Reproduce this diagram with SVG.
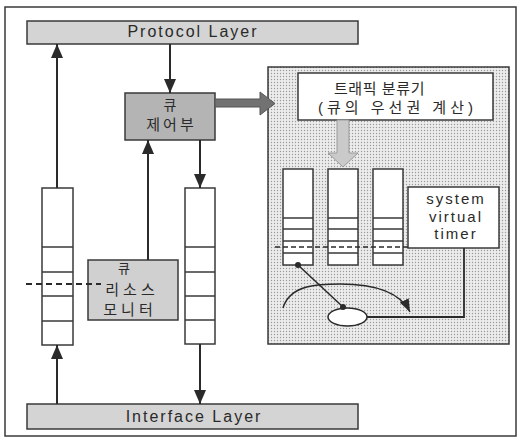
<svg xmlns="http://www.w3.org/2000/svg" width="520" height="439" viewBox="0 0 520 439">
<style>
text{font-family:"Liberation Sans","Noto Sans CJK KR",sans-serif;fill:#2a2a2a;text-anchor:middle}
.box{stroke:#3a3a3a;stroke-width:1.5}
.conn{stroke:#2a2a2a;stroke-width:2;fill:none}
.q{fill:#fff;stroke:#3a3a3a;stroke-width:1.5}
.div{stroke:#3a3a3a;stroke-width:1.3}
</style>
<defs>
<marker id="ah" markerUnits="userSpaceOnUse" markerWidth="14" markerHeight="12" refX="14" refY="6" orient="auto" viewBox="0 0 14 12">
<path d="M0,0 L14,6 L0,12 z" fill="#2a2a2a"/>
</marker>
<marker id="ah2" markerUnits="userSpaceOnUse" markerWidth="13" markerHeight="10" refX="13" refY="5" orient="auto" viewBox="0 0 13 10">
<path d="M0,0 L13,5 L0,10 z" fill="#2a2a2a"/>
</marker>
<pattern id="dots" width="3" height="3" patternUnits="userSpaceOnUse">
<rect width="3" height="3" fill="#ececec"/>
<circle cx="1.5" cy="1.5" r="0.7" fill="#9a9a9a"/>
</pattern>
</defs>
<rect width="520" height="439" fill="#fff"/>
<rect x="5" y="7" width="511" height="429" fill="none" stroke="#3a3a3a" stroke-width="1.5"/>

<g id="protocol-layer">
<rect class="box" x="27" y="21" width="331" height="23" fill="#d4d4d4"/>
<text x="193" y="37" font-size="16" letter-spacing="2">Protocol Layer</text>
</g>
<g id="interface-layer">
<rect class="box" x="27" y="404" width="331" height="25" fill="#d4d4d4"/>
<text x="194" y="422" font-size="16" letter-spacing="2">Interface Layer</text>
</g>

<g id="queue-left">
<rect class="q" x="42" y="188" width="31" height="157"/>
<path class="div" d="M42,247H73M42,272H73M42,296H73M42,321H73"/>
</g>
<g id="queue-right">
<rect class="q" x="185" y="188" width="30" height="156"/>
<path class="div" d="M185,247H215M185,272H215M185,296H215M185,320H215"/>
</g>

<g id="queue-control">
<rect class="box" x="125" y="93" width="90" height="47" fill="#b4b4b4"/>
<text x="170" y="110" font-size="14">큐</text>
<text x="171.5" y="130" font-size="15" letter-spacing="3">제어부</text>
</g>

<g id="resource-monitor">
<rect class="box" x="88" y="260" width="90" height="60" fill="#d0d0d0"/>
<text x="124" y="273" font-size="13">큐</text>
<text x="132" y="295" font-size="15" letter-spacing="4">리소스</text>
<text x="130" y="315" font-size="15" letter-spacing="4">모니터</text>
</g>

<g id="scheduler-panel">
<rect x="268" y="67" width="241" height="277" fill="url(#dots)" stroke="#3a3a3a" stroke-width="1.5"/>
</g>

<g id="traffic-classifier">
<rect class="box" x="298" y="73" width="195" height="47" fill="#fff"/>
<text x="379.5" y="94" font-size="15" letter-spacing="0.6">트래픽 분류기</text>
<text x="397.5" y="113" font-size="15" letter-spacing="4">(큐의 우선권 계산)</text>
</g>

<g id="priority-queues">
<rect class="q" x="283" y="169" width="30" height="96"/>
<path class="div" d="M283,218H313M283,229H313M283,241H313M283,253H313"/>
<rect class="q" x="328" y="169" width="30" height="96"/>
<path class="div" d="M328,218H358M328,229H358M328,241H358M328,253H358"/>
<rect class="q" x="373" y="169" width="30" height="96"/>
<path class="div" d="M373,218H403M373,229H403M373,241H403M373,253H403"/>
</g>

<g id="system-virtual-timer">
<rect class="box" x="408" y="187" width="91" height="61" fill="#fff"/>
<text x="456" y="204" font-size="15" letter-spacing="2">system</text>
<text x="456" y="222" font-size="15" letter-spacing="2">virtual</text>
<text x="456" y="239" font-size="15" letter-spacing="2">timer</text>
</g>

<g id="packet">
<ellipse cx="347.5" cy="317" rx="19.5" ry="9" fill="#fff" stroke="#2a2a2a" stroke-width="1.5"/>
</g>

<g id="connectors">
<line class="conn" x1="57" y1="188" x2="57" y2="44" marker-end="url(#ah)"/>
<line class="conn" x1="170" y1="44" x2="170" y2="93" marker-end="url(#ah)"/>
<line class="conn" x1="200" y1="140" x2="200" y2="188" marker-end="url(#ah)"/>
<line class="conn" x1="148" y1="260" x2="148" y2="140" marker-end="url(#ah)"/>
<line class="conn" x1="57" y1="404" x2="57" y2="345" marker-end="url(#ah)"/>
<line class="conn" x1="200" y1="344" x2="200" y2="404" marker-end="url(#ah)"/>
<line x1="26" y1="284" x2="101" y2="284" stroke="#2a2a2a" stroke-width="2" stroke-dasharray="6,4"/>
<path d="M215,99H260V92L275,103.5L260,115V107H215z" fill="#727272" stroke="#555" stroke-width="1"/>
<path d="M337,120H349V153H358L343,167L328,153H337z" fill="#cacaca" stroke="#9a9a9a" stroke-width="1"/>
<line x1="275" y1="247" x2="408" y2="247" stroke="#2a2a2a" stroke-width="1.6" stroke-dasharray="5,3"/>
<path d="M464,248V317H367" fill="none" stroke="#2a2a2a" stroke-width="1.8"/>
<line x1="298" y1="265" x2="343" y2="307" stroke="#2a2a2a" stroke-width="1.5"/>
<circle cx="298" cy="265" r="3" fill="#2a2a2a"/>
<circle cx="343" cy="307" r="3" fill="#2a2a2a"/>
<path d="M283,308 C290,284 320,284 340,284 C375,284 400,292 410,312" fill="none" stroke="#2a2a2a" stroke-width="1.5" marker-end="url(#ah2)"/>
</g>
</svg>
